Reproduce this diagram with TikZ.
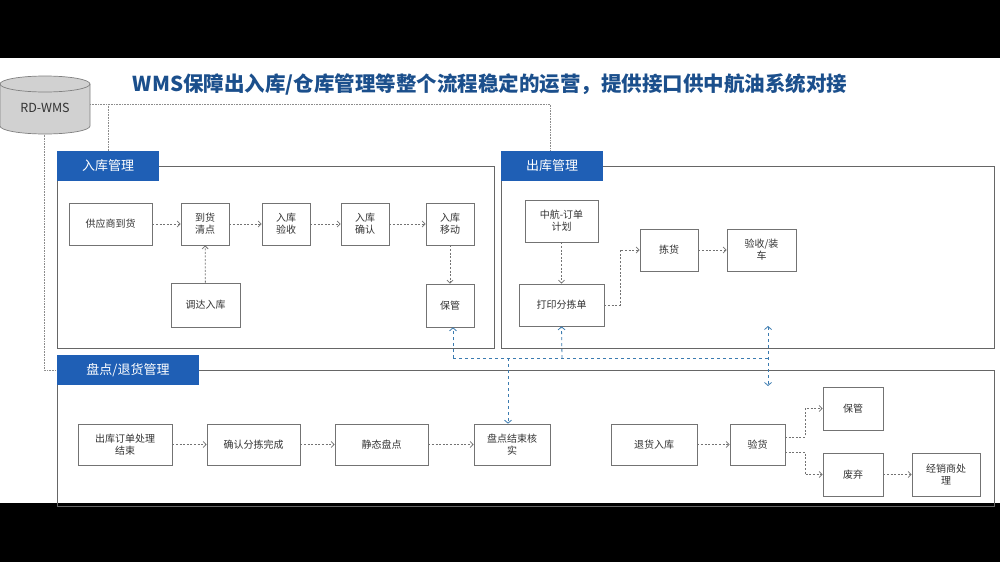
\documentclass[tikz,border=0pt]{standalone}
\usepackage{fontspec}
\setmainfont{Noto Sans CJK SC}
\usetikzlibrary{arrows.meta}
\definecolor{hdr}{HTML}{1F5FB5}
\definecolor{ttl}{HTML}{1B4F8C}
\definecolor{dash}{HTML}{3B7BB0}
\begin{document}
\begin{tikzpicture}[x=1pt,y=-1pt,
  box/.style={draw=black!55,line width=0.7pt,fill=white,font=\fontsize{10}{12}\selectfont,text=black!80,align=center,inner sep=0pt},
  panel/.style={draw=black!60,line width=0.8pt},
  head/.style={fill=hdr,text=white,font=\fontsize{13}{15}\selectfont,inner sep=0pt},
  arr/.style={draw=black!55,dash pattern=on 2pt off 1.6pt,line width=0.8pt,-{Straight Barb[length=3pt,width=6pt]}},
  conn/.style={draw=black!45,densely dotted,line width=0.6pt},
  bl/.style={draw=dash,dashed,line width=0.8pt},
  bla/.style={bl,-{Straight Barb[length=3pt,width=7pt]}}]
\useasboundingbox (0,0) rectangle (1000,562);
\fill[white] (0,0) rectangle (1000,562);
\fill[black] (0,0) rectangle (1000,58);
\fill[black] (0,503) rectangle (1000,562);
% connectors from RD-WMS
\draw[conn] (90,104) -- (550,104) -- (550,152);
\draw[conn] (108,104) -- (108,152);
\draw[conn] (44,133) -- (44,370) -- (57,370);
% cylinder
\filldraw[draw=black!50,fill=black!18,line width=0.7pt] (0,84) -- (0,126) arc[start angle=180,end angle=360,x radius=45,y radius=-8] -- (90,84) arc[start angle=0,end angle=180,x radius=45,y radius=-8] -- cycle;
\draw[black!50,line width=0.7pt] (0,84) arc[start angle=180,end angle=360,x radius=45,y radius=-8];
\node[font=\fontsize{12.5}{14}\selectfont,text=black!80] (db) at (45,108) {RD-WMS};
% title
\node[font=\fontsize{20.5}{23}\selectfont\bfseries,text=ttl] (title) at (490,84) {WMS保障出入库/仓库管理等整个流程稳定的运营，提供接口供中航油系统对接};
% panels
\draw[panel] (57,166) rectangle (494,348);
\draw[panel] (501,166) rectangle (994,348);
\draw[panel] (57,370) rectangle (994,506);
\node[head,minimum width=102pt,minimum height=30pt] (h1) at (108,166) {入库管理};
\node[head,minimum width=102pt,minimum height=30pt] (h2) at (552,166) {出库管理};
\node[head,minimum width=142pt,minimum height=30pt] (h3) at (128,370) {盘点/退货管理};
% inbound
\node[box,minimum width=83pt,minimum height=42pt] (a1) at (110.5,224) {供应商到货};
\node[box,minimum width=48pt,minimum height=42pt] (a2) at (205,224) {到货\\清点};
\node[box,minimum width=48pt,minimum height=42pt] (a3) at (286,224) {入库\\验收};
\node[box,minimum width=48pt,minimum height=42pt] (a4) at (365,224) {入库\\确认};
\node[box,minimum width=48pt,minimum height=42pt] (a5) at (450,224) {入库\\移动};
\node[box,minimum width=69pt,minimum height=44pt] (a6) at (205.5,305) {调达入库};
\node[box,minimum width=48pt,minimum height=43pt] (a7) at (450,305.5) {保管};
\draw[arr] (a1) -- (a2);
\draw[arr] (a2) -- (a3);
\draw[arr] (a3) -- (a4);
\draw[arr] (a4) -- (a5);
\draw[arr] (a6) -- (a2);
\draw[arr] (a5) -- (a7);
% outbound
\node[box,minimum width=73pt,minimum height=42pt] (b1) at (561.5,221) {中航-订单\\计划};
\node[box,minimum width=85pt,minimum height=42pt] (b2) at (561.5,305) {打印分拣单};
\node[box,minimum width=58pt,minimum height=42pt] (b3) at (669,250) {拣货};
\node[box,minimum width=69pt,minimum height=42pt] (b4) at (761.5,250) {验收/装\\车};
\draw[arr] (b1) -- (b2);
\draw[arr] (b2.east) -- (620,305) -- (620,250) -- (b3.west);
\draw[arr] (b3) -- (b4);
% bottom
\node[box,minimum width=94pt,minimum height=41pt] (c1) at (125,444.5) {出库订单处理\\结束};
\node[box,minimum width=93pt,minimum height=41pt] (c2) at (253.5,444.5) {确认分拣完成};
\node[box,minimum width=93pt,minimum height=41pt] (c3) at (381.5,444.5) {静态盘点};
\node[box,minimum width=76pt,minimum height=41pt] (c4) at (512,444.5) {盘点结束核\\实};
\node[box,minimum width=86pt,minimum height=41pt] (d1) at (654,444.5) {退货入库};
\node[box,minimum width=55pt,minimum height=41pt] (d2) at (757.5,444.5) {验货};
\node[box,minimum width=60pt,minimum height=43pt] (d3) at (853,408.5) {保管};
\node[box,minimum width=60pt,minimum height=43pt] (d4) at (853,474.5) {废弃};
\node[box,minimum width=68pt,minimum height=43pt] (d5) at (946,474.5) {经销商处\\理};
\draw[arr] (c1) -- (c2);
\draw[arr] (c2) -- (c3);
\draw[arr] (c3) -- (c4);
\draw[arr] (d1) -- (d2);
\draw[arr] (785,437) -- (805,437) -- (805,408.5) -- (d3.west);
\draw[arr] (785,452) -- (805,452) -- (805,474.5) -- (d4.west);
\draw[arr] (d4) -- (d5);
% blue dashed links
\coordinate (j1) at (453,358);
\coordinate (j2) at (562,358);
\coordinate (j3) at (508,358);
\coordinate (j4) at (768,358);
\draw[bl] (j1) -- (j4);
\draw[bla] (j1) -- (a7.south -| j1);
\draw[bla] (j2) -- (b2.south);
\draw[bla] (j3) -- (c4.north -| j3);
\coordinate (u1) at (768,326);
\coordinate (u2) at (768,386);
\draw[bl,{Straight Barb[length=3pt,width=7pt]}-{Straight Barb[length=3pt,width=7pt]}] (u1) -- (u2);
\end{tikzpicture}
\end{document}
